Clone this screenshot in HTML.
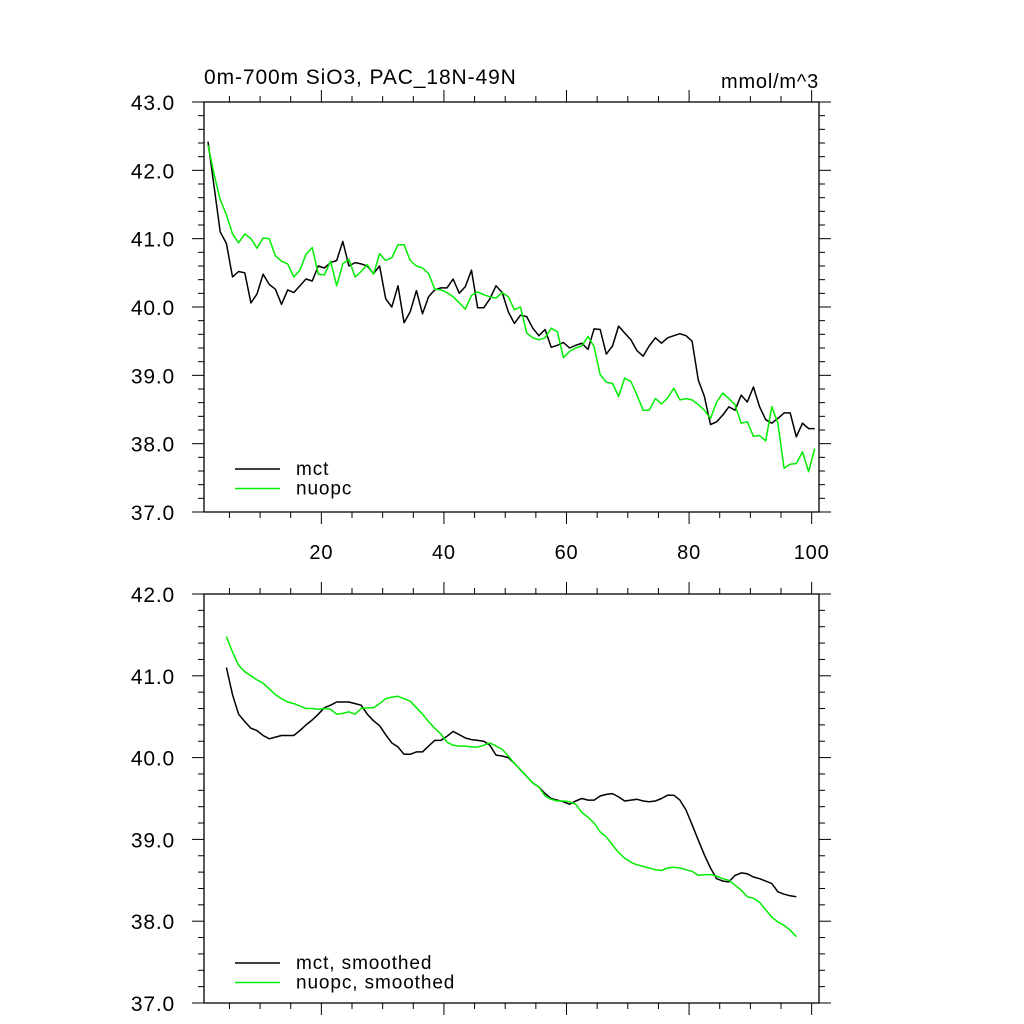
<!DOCTYPE html>
<html><head><meta charset="utf-8"><style>
html,body{margin:0;padding:0;background:#fff;}
svg{display:block;font-family:"Liberation Sans",sans-serif;}
</style></head><body>
<svg id="chart" width="1024" height="1024" viewBox="0 0 1024 1024">
<text x="204" y="84" font-size="21" letter-spacing="0.9">0m-700m SiO3, PAC_18N-49N</text>
<text x="819" y="88" font-size="20" letter-spacing="0.8" text-anchor="end">mmol/m^3</text>
<g id="top"></g>
<g id="bot"></g>
</svg>
<script>
const mctRaw=[42.42,41.76,41.10,40.93,40.44,40.52,40.50,40.06,40.19,40.48,40.33,40.26,40.04,40.25,40.21,40.31,40.41,40.38,40.60,40.57,40.65,40.68,40.96,40.60,40.65,40.63,40.60,40.49,40.60,40.12,40.00,40.31,39.77,39.93,40.24,39.90,40.15,40.25,40.28,40.28,40.41,40.20,40.30,40.54,39.99,39.99,40.12,40.31,40.21,39.93,39.76,39.88,39.86,39.69,39.58,39.67,39.41,39.44,39.48,39.40,39.44,39.47,39.38,39.68,39.67,39.31,39.43,39.72,39.62,39.52,39.36,39.28,39.43,39.55,39.47,39.55,39.58,39.61,39.58,39.50,38.93,38.69,38.28,38.32,38.42,38.54,38.49,38.71,38.61,38.83,38.54,38.35,38.30,38.37,38.45,38.45,38.10,38.30,38.22,38.22];
const nuopcRaw=[42.37,41.94,41.57,41.35,41.07,40.94,41.07,41.00,40.86,41.01,41.00,40.75,40.67,40.63,40.44,40.54,40.77,40.87,40.48,40.47,40.67,40.31,40.63,40.70,40.44,40.52,40.62,40.48,40.78,40.68,40.72,40.91,40.91,40.68,40.60,40.57,40.49,40.26,40.25,40.21,40.15,40.06,39.97,40.17,40.22,40.18,40.15,40.13,40.21,40.15,39.96,40.00,39.62,39.55,39.52,39.55,39.69,39.64,39.26,39.35,39.40,39.43,39.57,39.42,39.01,38.90,38.88,38.69,38.96,38.91,38.71,38.49,38.49,38.66,38.58,38.67,38.81,38.64,38.66,38.64,38.57,38.49,38.37,38.61,38.74,38.66,38.57,38.30,38.32,38.11,38.12,38.04,38.54,38.30,37.64,37.70,37.71,37.88,37.59,37.93];
const mctSmooth=[41.10,40.77,40.53,40.44,40.36,40.33,40.27,40.23,40.25,40.27,40.27,40.27,40.33,40.40,40.46,40.53,40.61,40.64,40.68,40.68,40.68,40.66,40.64,40.53,40.45,40.39,40.28,40.18,40.13,40.04,40.04,40.07,40.07,40.14,40.21,40.21,40.26,40.32,40.28,40.24,40.22,40.21,40.20,40.15,40.03,40.02,40.00,39.93,39.85,39.77,39.69,39.64,39.56,39.50,39.48,39.46,39.43,39.47,39.50,39.48,39.48,39.53,39.55,39.56,39.52,39.47,39.48,39.49,39.47,39.46,39.47,39.50,39.54,39.54,39.48,39.36,39.18,38.99,38.81,38.65,38.52,38.49,38.48,38.56,38.59,38.58,38.54,38.52,38.49,38.46,38.36,38.33,38.31,38.30];
const nuopcSmooth=[41.48,41.29,41.13,41.05,41.00,40.95,40.91,40.84,40.77,40.72,40.68,40.66,40.63,40.60,40.60,40.59,40.60,40.59,40.53,40.54,40.56,40.53,40.60,40.61,40.61,40.66,40.72,40.74,40.75,40.72,40.69,40.61,40.53,40.44,40.36,40.29,40.19,40.15,40.14,40.14,40.13,40.13,40.15,40.18,40.14,40.10,40.02,39.93,39.85,39.77,39.69,39.64,39.53,39.49,39.47,39.47,39.46,39.43,39.33,39.27,39.20,39.09,39.03,38.93,38.84,38.77,38.72,38.69,38.67,38.65,38.63,38.62,38.65,38.66,38.65,38.63,38.61,38.56,38.57,38.57,38.55,38.52,38.50,38.44,38.38,38.30,38.28,38.23,38.14,38.05,37.99,37.95,37.89,37.81];
const xTickLabels=["20","40","60","80","100"];
const xTickValues=[20,40,60,80,100];
const topYTicks=[43,42,41,40,39,38,37];
const botYTicks=[42,41,40,39,38,37];
const smoothStart=4;

const NS="http://www.w3.org/2000/svg";
const X0=204,X1=819,XMIN=0.85,XMAX=101.2;
function xs(v){return X0+(v-XMIN)/(XMAX-XMIN)*(X1-X0);}
function mk(tag,attrs,parent){const e=document.createElementNS(NS,tag);for(const k in attrs)e.setAttribute(k,attrs[k]);parent.appendChild(e);return e;}

function panel(g,top,bot,ymax,ymin,yticks,showXLabels,series,legend,legY){
  const ys=v=>top+(ymax-v)/(ymax-ymin)*(bot-top);
  const fr=mk('rect',{x:X0,y:top,width:X1-X0,height:bot-top,fill:'none',stroke:'#000','stroke-width':1.3},g);
  
  
  for(let v=5;v<=100;v+=5){
    const x=xs(v),maj=v%20===0,L=maj?12:6;
    const t1=mk('line',{x1:x,x2:x,y1:bot,y2:bot+L,stroke:'#000','stroke-width':1},g);
    
    
    const t2=mk('line',{x1:x,x2:x,y1:top,y2:top-L,stroke:'#000','stroke-width':1},g);
    
    
  }
  if(showXLabels){
    xTickValues.forEach((v,i)=>{
      const t=mk('text',{x:xs(v),y:bot+47,'font-size':20,'letter-spacing':0.8,'text-anchor':'middle'},g);
      t.textContent=xTickLabels[i];
      
      
    });
  }
  for(let k=Math.round(ymin*5);k<=Math.round(ymax*5);k++){
    const v=k/5,y=ys(v),maj=k%5===0,L=maj?12:6;
    const a=mk('line',{x1:X0-L,x2:X0,y1:y,y2:y,stroke:'#000','stroke-width':1},g);
    
    
    const b=mk('line',{x1:X1,x2:X1+L,y1:y,y2:y,stroke:'#000','stroke-width':1},g);
    
    
  }
  yticks.forEach(v=>{
    const t=mk('text',{x:X0-29,y:ys(v)+8,'font-size':21,'letter-spacing':0.8,'text-anchor':'end'},g);
    t.textContent=v.toFixed(1);
    
    
  });
  series.forEach((s,si)=>{
    const pts=s.data.map((v,i)=>xs(s.start+i+0.5).toFixed(1)+','+ys(v).toFixed(1)).join(' ');
    const p=mk('polyline',{points:pts,fill:'none',stroke:s.color,'stroke-width':1.5,'stroke-linejoin':'round'},g);
    
    
    const ly=legY+si*19.5;
    const l=mk('line',{x1:235,x2:280,y1:ly,y2:ly,stroke:s.color,'stroke-width':1.5},g);
    
    
    const t=mk('text',{x:296,y:ly+6,'font-size':19,'letter-spacing':0.9},g);
    t.textContent=legend[si];
    
    
  });
}
panel(document.getElementById('top'),102,512,43,37,topYTicks,true,
  [{data:mctRaw,start:1,color:'#000',name:'mct-line'},{data:nuopcRaw,start:1,color:'#00ee00',name:'nuopc-line'}],
  ['mct','nuopc'],469);
panel(document.getElementById('bot'),594,1003,42,37,botYTicks,false,
  [{data:mctSmooth,start:smoothStart,color:'#000',name:'mct-smoothed-line'},{data:nuopcSmooth,start:smoothStart,color:'#00ee00',name:'nuopc-smoothed-line'}],
  ['mct, smoothed','nuopc, smoothed'],963);
</script>
</body></html>
